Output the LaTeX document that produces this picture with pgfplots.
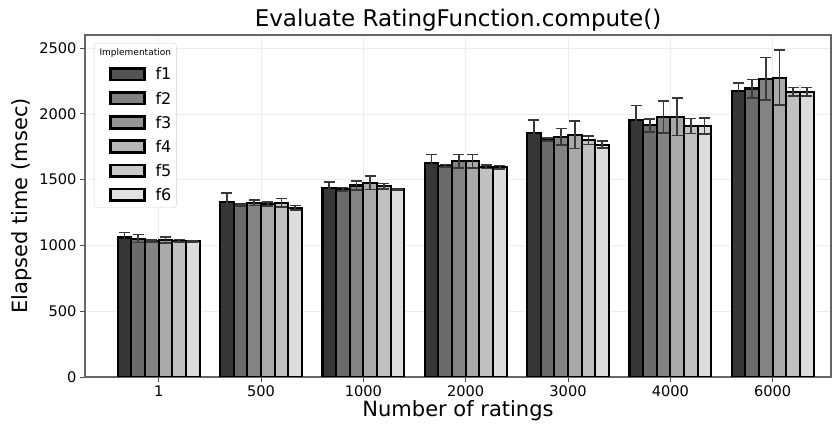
\documentclass[border=0pt]{standalone}
\usepackage{pgfplots}
\pgfplotsset{compat=1.18}
\usepackage{pgfplotstable}
\usepackage{fontspec}
\setmainfont{DejaVu Sans}
\newcommand{\tf}{\fontsize{14.6}{17}\selectfont}

\definecolor{c1}{HTML}{363636}
\definecolor{c2}{HTML}{6B6B6B}
\definecolor{c3}{HTML}{838383}
\definecolor{c4}{HTML}{A9A9A9}
\definecolor{c5}{HTML}{C0C0C0}
\definecolor{c6}{HTML}{DCDCDC}

\pgfplotstableread{
x y e
0 1060 40
1 1331 70
2 1437 45
3 1629 62
4 1857 95
5 1954 110
6 2175 58
}\fone
\pgfplotstableread{
x y e
0 1052 30
1 1308 8
2 1428 12
3 1605 10
4 1806 13
5 1913 50
6 2193 70
}\ftwo
\pgfplotstableread{
x y e
0 1035 8
1 1324 20
2 1456 33
3 1641 50
4 1826 62
5 1977 122
6 2268 161
}\fthree
\pgfplotstableread{
x y e
0 1042 22
1 1316 15
2 1476 51
3 1641 50
4 1840 104
5 1977 142
6 2276 210
}\ffour
\pgfplotstableread{
x y e
0 1036 8
1 1324 33
2 1451 20
3 1598 12
4 1799 33
5 1908 56
6 2167 33
}\ffive
\pgfplotstableread{
x y e
0 1033 6
1 1286 17
2 1425 6
3 1595 12
4 1766 27
5 1908 61
6 2167 33
}\fsix

\pgfplotsset{
  mybar/.style={
    fill=#1, draw=black, line width=2.2pt,
    legend image code/.code={\path (0pt,0pt); \draw[sharp corners,fill=#1,draw=black,line width=2.6pt] (12pt,-5.5pt) rectangle (46pt,6pt);},
    error bars/y dir=both, error bars/y explicit,
    error bars/error bar style={line width=1.6pt, draw=black!78},
    error bars/error mark options={line width=1.6pt, draw=black!78, mark size=5.5pt, rotate=90},
  },
}

\begin{document}
\begin{tikzpicture}[x=1pt,y=1pt]
\path[use as bounding box] (-85,-50) rectangle (748,377);
\begin{axis}[
  at={(0,0)}, anchor=south west,
  scale only axis, width=746pt, height=342pt,
  xmin=-0.72, xmax=6.57, ymin=0, ymax=2600,
  ybar=0pt, bar width=0.1333,
  xtick={0,1,2,3,4,5,6},
  xticklabels={{\tf 1},{\tf 500},{\tf 1000},{\tf 2000},{\tf 3000},{\tf 4000},{\tf 6000}},
  ytick={0,500,1000,1500,2000,2500},
  yticklabel={\tf\pgfmathprintnumber{\tick}},
  xtick pos=bottom, ytick pos=left,
  tick align=outside, major tick length=5pt,
  tick style={black!70, line width=0.9pt},
  axis line style={black!60, line width=1.1pt},
  grid=major, major grid style={black!7, line width=0.8pt},
  /pgf/number format/assume math mode=true,
  /pgf/number format/1000 sep={},
  title={Evaluate RatingFunction.compute()},
  title style={at={(axis description cs:0.5,1.027)}, anchor=center, font=\fontsize{23}{27}\selectfont},
  xlabel={Number of ratings},
  xlabel style={at={(axis description cs:0.5,-0.1)}, anchor=center, font=\fontsize{21}{24}\selectfont},
  ylabel={Elapsed time (msec)},
  ylabel style={at={(axis description cs:-0.0845,0.5)}, anchor=center, font=\fontsize{21}{24}\selectfont},
  legend cell align=left,
  legend style={at={(0.012,0.977)}, anchor=north west, draw=black!18, rounded corners=3pt,
    fill=white, fill opacity=0.85, text opacity=1,
    font=\fontsize{16}{18}\selectfont, row sep=6.4pt, inner xsep=3pt, inner ysep=4pt,
    /tikz/every odd column/.style={column sep=8pt}},
]
\addlegendimage{empty legend}
\addlegendentry{\hspace{-56pt}\fontsize{9}{10}\selectfont Implementation}
\addplot[mybar=c1, bar shift=-0.3333] table[x=x,y=y,y error=e]{\fone};
\addlegendentry{f1}
\addplot[mybar=c2, bar shift=-0.2] table[x=x,y=y,y error=e]{\ftwo};
\addlegendentry{f2}
\addplot[mybar=c3, bar shift=-0.0667] table[x=x,y=y,y error=e]{\fthree};
\addlegendentry{f3}
\addplot[mybar=c4, bar shift=0.0667] table[x=x,y=y,y error=e]{\ffour};
\addlegendentry{f4}
\addplot[mybar=c5, bar shift=0.2] table[x=x,y=y,y error=e]{\ffive};
\addlegendentry{f5}
\addplot[mybar=c6, bar shift=0.3333] table[x=x,y=y,y error=e]{\fsix};
\addlegendentry{f6}
\end{axis}
\end{tikzpicture}
\end{document}
